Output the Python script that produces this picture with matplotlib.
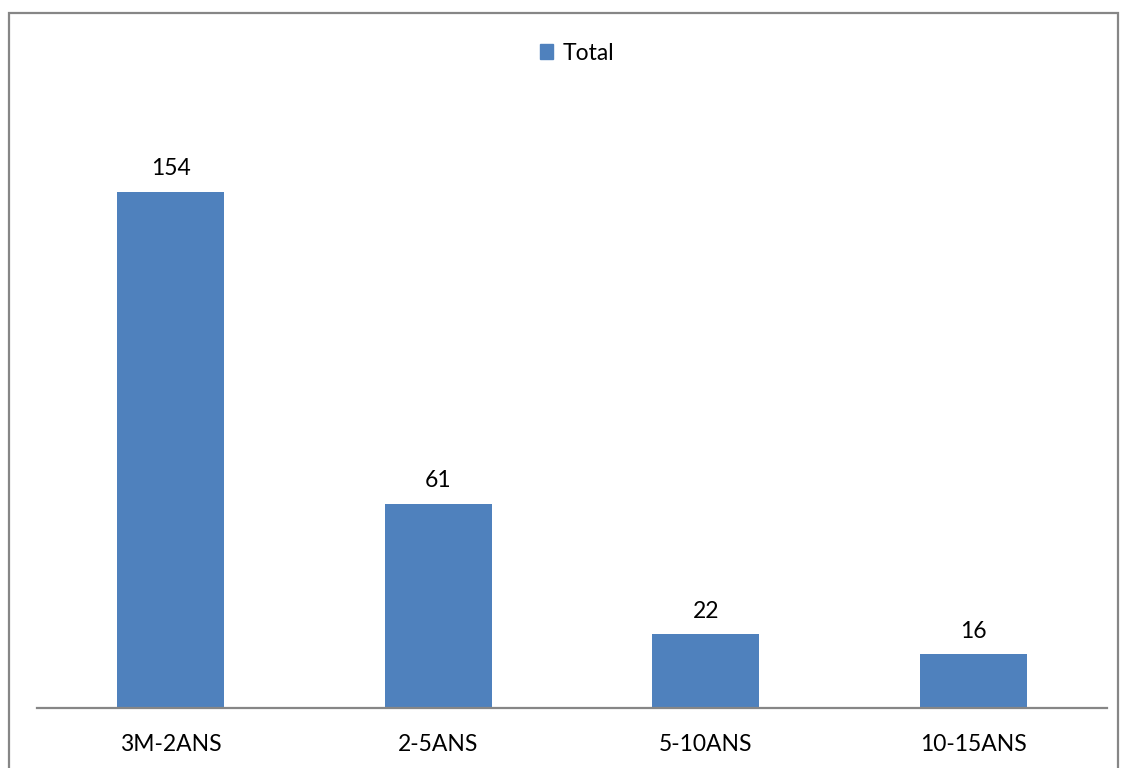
import matplotlib
matplotlib.use('Agg')
from matplotlib import pyplot as plt
from matplotlib.patches import Rectangle, Patch

categories = ['3M-2ANS', '2-5ANS', '5-10ANS', '10-15ANS']
totals = [154, 61, 22, 16]
series_name = 'Total'

plt.rcParams['font.family'] = ['Lato', 'DejaVu Sans']

W, H = 1127, 768
fig = plt.figure(figsize=(W / 100, H / 100), dpi=100)

# cadre gris autour du graphique
fig.patches.append(Rectangle((9 / W, -0.05), (1118 - 9) / W, 1.05 - 13 / H,
                             transform=fig.transFigure, fill=False,
                             edgecolor='#868686', linewidth=1.6))

ax = fig.add_axes([37 / W, 60 / H, (1107 - 37) / W, (708 - 103) / H])
x = range(len(categories))
bars = ax.bar(x, totals, width=0.4, color='#4f81bd')
ax.set_xlim(-0.5, len(categories) - 0.5)
ax.set_ylim(0, 180.5)

for b, v in zip(bars, totals):
    ax.annotate(str(v), (b.get_x() + b.get_width() / 2, v),
                xytext=(0, 9), textcoords='offset points',
                ha='center', va='bottom', fontsize=16.5, color='#000000')

ax.set_xticks(list(x))
ax.set_xticklabels(categories, fontsize=16.5)
ax.tick_params(axis='x', length=0, pad=19)
ax.set_yticks([])
for s in ['left', 'right', 'top']:
    ax.spines[s].set_visible(False)
ax.spines['bottom'].set_color('#868686')
ax.spines['bottom'].set_linewidth(1.6)

fig.legend(handles=[Patch(color='#4f81bd', label=series_name)],
           loc='center', bbox_to_anchor=(577 / W, 1 - 53 / H),
           frameon=False, fontsize=16.5, handlelength=0.6, handleheight=0.6,
           handletextpad=0.4)

fig.savefig('out.png', dpi=100)
